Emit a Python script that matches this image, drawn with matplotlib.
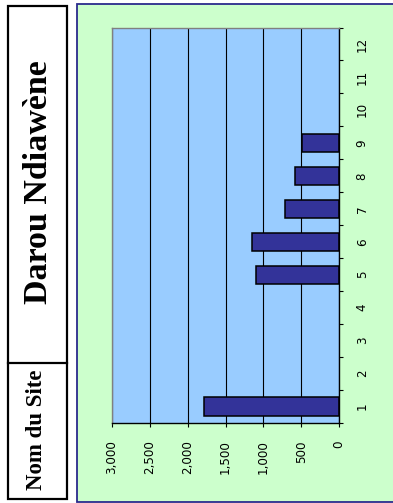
import matplotlib
matplotlib.use("Agg")
import matplotlib.pyplot as plt
from matplotlib.patches import Rectangle
from matplotlib.lines import Line2D
import numpy as np

# Monthly values for the site (months 1-12)
categories = [1, 2, 3, 4, 5, 6, 7, 8, 9, 10, 11, 12]
values = [1780, 0, 0, 0, 1100, 1150, 715, 575, 485, 0, 0, 0]
value_ticks = [0, 500, 1000, 1500, 2000, 2500, 3000]
value_labels = ["0", "500", "1,000", "1,500", "2,000", "2,500", "3,000"]
site_label = "Nom du Site"
site_name = "Darou Ndiawène"

W, H = 393, 503
fig = plt.figure(figsize=(W / 100, H / 100), dpi=100)
fig.patch.set_facecolor("white")


def fx(px):
    return px / W


def fy(py):
    return 1 - py / H


# Green chart panel with a navy frame
panel = Rectangle((fx(76.5), fy(501.5)), fx(400) - fx(76.5), fy(4.5) - fy(501.5),
                  transform=fig.transFigure, facecolor="#CCFFCC",
                  edgecolor="#2B2B8C", linewidth=1.3, zorder=-3)
fig.patches.append(panel)

# Title box on the left
box = Rectangle((fx(8.3), fy(499)), fx(67) - fx(8.3), fy(5.5) - fy(499),
                transform=fig.transFigure, facecolor="white",
                edgecolor="black", linewidth=1.6, zorder=-2)
fig.patches.append(box)
fig.lines.append(Line2D([fx(8.3), fx(67)], [fy(363.3), fy(363.3)],
                        transform=fig.transFigure, color="black",
                        linewidth=1.6, zorder=-1))
fig.text(fx(38.5), fy(182), site_name, rotation=90, ha="center", va="center",
         family="Liberation Serif", weight="bold", fontsize=24.5)
fig.text(fx(37), fy(430), site_label, rotation=90, ha="center", va="center",
         family="Liberation Serif", weight="bold", fontsize=16.5)

# Plot area
ax = fig.add_axes([fx(112), fy(423), fx(339) - fx(112), (423 - 27.5) / H])
ax.set_facecolor("#99CCFF")

cats = np.array(categories)
vals = np.array(values, dtype=float)
mask = vals > 0
ax.barh(cats[mask], vals[mask], height=0.55, color="#333399",
        edgecolor="black", linewidth=1.1, zorder=3)

ax.set_xlim(3000, 0)
ax.set_ylim(0.5, 12.5)

for v in value_ticks:
    ax.axvline(v, color="black", linewidth=0.8, zorder=2)

for side in ("left", "top"):
    ax.spines[side].set_color("#808080")
    ax.spines[side].set_linewidth(1.0)
for side in ("right", "bottom"):
    ax.spines[side].set_color("black")
    ax.spines[side].set_linewidth(1.0)
for s in ax.spines.values():
    s.set_zorder(4)

# Value axis along the bottom
ax.set_xticks(value_ticks)
ax.set_xticklabels(value_labels, rotation=90, family="DejaVu Sans", fontsize=8.6)
ax.tick_params(axis="x", direction="out", length=3, width=0.8, pad=9.5,
               colors="black")

# Category axis on the right
ax.yaxis.tick_right()
ax.set_yticks(categories)
ax.set_yticklabels([str(c) for c in categories], rotation=90,
                   family="DejaVu Sans", fontsize=8.6)
ax.set_yticks(np.arange(0.5, 13.0, 1.0), minor=True)
ax.tick_params(axis="y", which="major", length=0, pad=12)
ax.tick_params(axis="y", which="minor", direction="out", length=3, width=0.8,
               right=True, left=False)
for lab in ax.get_yticklabels():
    lab.set_verticalalignment("center")

fig.savefig("out.png", dpi=100)
